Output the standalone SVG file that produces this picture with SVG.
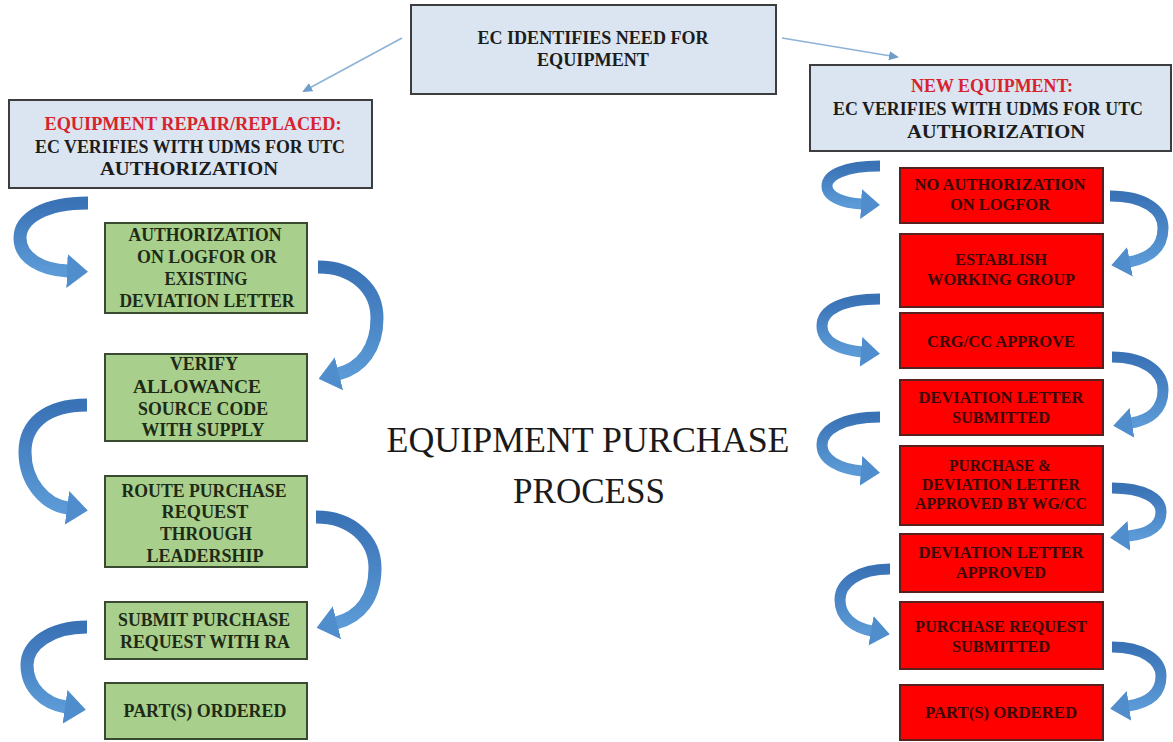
<svg xmlns="http://www.w3.org/2000/svg" width="1173" height="742" viewBox="0 0 1173 742">
<style>
.blue{fill:#dbe5f1;stroke:#3d3d3d;stroke-width:2}
.green{fill:#a8cf8c;stroke:#3a4a30;stroke-width:2}
.red{fill:#fe0000;stroke:#5a1f1f;stroke-width:2}
.t{font-family:"Liberation Serif","Times New Roman",serif;font-weight:bold;text-anchor:middle}
.tb{font-size:19px;fill:#1c1c1c}
.tr{fill:#d8232c}
.tg{font-size:19px;fill:#1e2a16}
.tred{font-size:17px;fill:#3a0808}
.title{font-family:"Liberation Serif","Times New Roman",serif;font-size:36px;fill:#1a1a1a;text-anchor:middle}
.thin{fill:none;stroke:#8db3d6;stroke-width:1.6}
.curve{fill:none;stroke:url(#rib);stroke-width:13;marker-end:url(#head)}
.curve2{fill:none;stroke:url(#rib);stroke-width:11;marker-end:url(#head2)}
</style>
<defs>
<linearGradient id="rib" x1="0" y1="0" x2="0" y2="1">
<stop offset="0" stop-color="#3a72b6"/>
<stop offset="1" stop-color="#5b9ad6"/>
</linearGradient>
<marker id="head" markerUnits="userSpaceOnUse" viewBox="0 -17 21 34" refX="1" refY="0" markerWidth="21" markerHeight="34" orient="auto">
<path d="M0,-17 L21,0 L0,17 z" fill="#4f8dcc"/>
</marker>
<marker id="head2" markerUnits="userSpaceOnUse" viewBox="0 -15 19 30" refX="1" refY="0" markerWidth="19" markerHeight="30" orient="auto">
<path d="M0,-15 L19,0 L0,15 z" fill="#4f8dcc"/>
</marker>
<marker id="small" markerUnits="userSpaceOnUse" viewBox="0 -5 10 10" refX="8" refY="0" markerWidth="10" markerHeight="10" orient="auto">
<path d="M0,-4.5 L10,0 L0,4.5 z" fill="#6f9cc8"/>
</marker>
</defs>
<rect width="1173" height="742" fill="#ffffff"/>

<g id="connectors">
<path class="thin" d="M402,38 L304,91" marker-end="url(#small)"/>
<path class="thin" d="M782,38 L897,57" marker-end="url(#small)"/>
<path class="curve" d="M88,203 C45,203 20,218 20,238 C20,258 42,270 68,271"/>
<path class="curve" d="M318,267 C355,267 377,290 377,318 C377,348 362,368 338,374"/>
<path class="curve" d="M87,405 C45,405 25,425 25,452 C25,482 45,505 68,508"/>
<path class="curve" d="M316,517 C352,517 375,540 375,568 C375,598 360,617 336,623"/>
<path class="curve" d="M87,627 C50,627 27,645 27,665 C27,688 45,704 66,707"/>
<path class="curve2" d="M880,166 C845,166 827,175 827,186 C827,197 843,203 862,204"/>
<path class="curve2" d="M1110,196 C1145,196 1163,210 1163,228 C1163,248 1150,258 1129,262"/>
<path class="curve2" d="M880,299 C842,299 822,310 822,326 C822,342 840,350 862,352"/>
<path class="curve2" d="M1112,357 C1145,357 1163,372 1163,390 C1163,410 1150,420 1131,423"/>
<path class="curve2" d="M880,417 C842,417 822,430 822,445 C822,460 840,469 862,471"/>
<path class="curve2" d="M1112,488 C1143,488 1161,498 1161,512 C1161,527 1148,534 1128,536"/>
<path class="curve2" d="M890,569 C858,569 840,583 840,600 C840,618 855,628 872,631"/>
<path class="curve2" d="M1112,647 C1143,647 1161,660 1161,676 C1161,694 1148,703 1128,706"/>
</g>

<g id="title">
<text class="title" x="588" y="452" textLength="403" lengthAdjust="spacingAndGlyphs">EQUIPMENT PURCHASE</text>
<text class="title" x="589" y="503" textLength="152" lengthAdjust="spacingAndGlyphs">PROCESS</text>
</g>

<g id="node-top">
<rect class="blue" x="411" y="5" width="365" height="89"/>
<text class="t tb" x="593" y="44" textLength="231" lengthAdjust="spacingAndGlyphs">EC IDENTIFIES NEED FOR</text>
<text class="t tb" x="593" y="66" textLength="112" lengthAdjust="spacingAndGlyphs">EQUIPMENT</text>
</g>

<g id="node-repair">
<rect class="blue" x="9" y="100" width="363" height="88"/>
<text class="t tb tr" x="193" y="130" textLength="297" lengthAdjust="spacingAndGlyphs">EQUIPMENT REPAIR/REPLACED:</text>
<text class="t tb" x="190" y="153" textLength="310" lengthAdjust="spacingAndGlyphs">EC VERIFIES WITH UDMS FOR UTC</text>
<text class="t tb" x="189" y="175" textLength="178" lengthAdjust="spacingAndGlyphs">AUTHORIZATION</text>
</g>

<g id="node-new">
<rect class="blue" x="810" y="65" width="361" height="86"/>
<text class="t tb tr" x="992" y="92" textLength="162" lengthAdjust="spacingAndGlyphs">NEW EQUIPMENT:</text>
<text class="t tb" x="988" y="115" textLength="310" lengthAdjust="spacingAndGlyphs">EC VERIFIES WITH UDMS FOR UTC</text>
<text class="t tb" x="996" y="138" textLength="178" lengthAdjust="spacingAndGlyphs">AUTHORIZATION</text>
</g>

<g id="g1">
<rect class="green" x="105" y="223" width="202" height="90"/>
<text class="t tg" x="205" y="241" textLength="153" lengthAdjust="spacingAndGlyphs">AUTHORIZATION</text>
<text class="t tg" x="207" y="263" textLength="140" lengthAdjust="spacingAndGlyphs">ON LOGFOR OR</text>
<text class="t tg" x="206" y="285" textLength="83" lengthAdjust="spacingAndGlyphs">EXISTING</text>
<text class="t tg" x="207" y="307" textLength="175" lengthAdjust="spacingAndGlyphs">DEVIATION LETTER</text>
</g>

<g id="g2">
<rect class="green" x="105" y="354" width="202" height="87"/>
<text class="t tg" x="204" y="370" textLength="68" lengthAdjust="spacingAndGlyphs">VERIFY</text>
<text class="t tg" x="197" y="393" textLength="128" lengthAdjust="spacingAndGlyphs">ALLOWANCE</text>
<text class="t tg" x="203" y="415" textLength="130" lengthAdjust="spacingAndGlyphs">SOURCE CODE</text>
<text class="t tg" x="203" y="436" textLength="123" lengthAdjust="spacingAndGlyphs">WITH SUPPLY</text>
</g>

<g id="g3">
<rect class="green" x="105" y="476" width="202" height="91"/>
<text class="t tg" x="204" y="497" textLength="165" lengthAdjust="spacingAndGlyphs">ROUTE PURCHASE</text>
<text class="t tg" x="205" y="518" textLength="87" lengthAdjust="spacingAndGlyphs">REQUEST</text>
<text class="t tg" x="206" y="540" textLength="92" lengthAdjust="spacingAndGlyphs">THROUGH</text>
<text class="t tg" x="205" y="562" textLength="117" lengthAdjust="spacingAndGlyphs">LEADERSHIP</text>
</g>

<g id="g4">
<rect class="green" x="105" y="602" width="202" height="57"/>
<text class="t tg" x="204" y="626" textLength="172" lengthAdjust="spacingAndGlyphs">SUBMIT PURCHASE</text>
<text class="t tg" x="205" y="648" textLength="170" lengthAdjust="spacingAndGlyphs">REQUEST WITH RA</text>
</g>

<g id="g5">
<rect class="green" x="105" y="683" width="202" height="56"/>
<text class="t tg" x="205" y="717" textLength="163" lengthAdjust="spacingAndGlyphs">PART(S) ORDERED</text>
</g>

<g id="r1">
<rect class="red" x="900" y="168" width="203" height="55"/>
<text class="t tred" x="1000" y="190" textLength="171" lengthAdjust="spacingAndGlyphs">NO AUTHORIZATION</text>
<text class="t tred" x="1000" y="210" textLength="100" lengthAdjust="spacingAndGlyphs">ON LOGFOR</text>
</g>

<g id="r2">
<rect class="red" x="900" y="234" width="203" height="73"/>
<text class="t tred" x="1001" y="265" textLength="92" lengthAdjust="spacingAndGlyphs">ESTABLISH</text>
<text class="t tred" x="1001" y="285" textLength="148" lengthAdjust="spacingAndGlyphs">WORKING GROUP</text>
</g>

<g id="r3">
<rect class="red" x="900" y="313" width="203" height="55"/>
<text class="t tred" x="1001" y="347" textLength="148" lengthAdjust="spacingAndGlyphs">CRG/CC APPROVE</text>
</g>

<g id="r4">
<rect class="red" x="900" y="380" width="203" height="55"/>
<text class="t tred" x="1001" y="403" textLength="165" lengthAdjust="spacingAndGlyphs">DEVIATION LETTER</text>
<text class="t tred" x="1001" y="423" textLength="98" lengthAdjust="spacingAndGlyphs">SUBMITTED</text>
</g>

<g id="r5">
<rect class="red" x="900" y="446" width="203" height="79"/>
<text class="t tred" x="1000" y="471" textLength="102" lengthAdjust="spacingAndGlyphs">PURCHASE &amp;</text>
<text class="t tred" x="1001" y="490" textLength="158" lengthAdjust="spacingAndGlyphs">DEVIATION LETTER</text>
<text class="t tred" x="1001" y="509" textLength="172" lengthAdjust="spacingAndGlyphs">APPROVED BY WG/CC</text>
</g>

<g id="r6">
<rect class="red" x="900" y="534" width="203" height="58"/>
<text class="t tred" x="1001" y="558" textLength="165" lengthAdjust="spacingAndGlyphs">DEVIATION LETTER</text>
<text class="t tred" x="1001" y="578" textLength="90" lengthAdjust="spacingAndGlyphs">APPROVED</text>
</g>

<g id="r7">
<rect class="red" x="900" y="602" width="203" height="67"/>
<text class="t tred" x="1001" y="632" textLength="172" lengthAdjust="spacingAndGlyphs">PURCHASE REQUEST</text>
<text class="t tred" x="1001" y="652" textLength="98" lengthAdjust="spacingAndGlyphs">SUBMITTED</text>
</g>

<g id="r8">
<rect class="red" x="900" y="685" width="203" height="55"/>
<text class="t tred" x="1001" y="718" textLength="152" lengthAdjust="spacingAndGlyphs">PART(S) ORDERED</text>
</g>
</svg>
